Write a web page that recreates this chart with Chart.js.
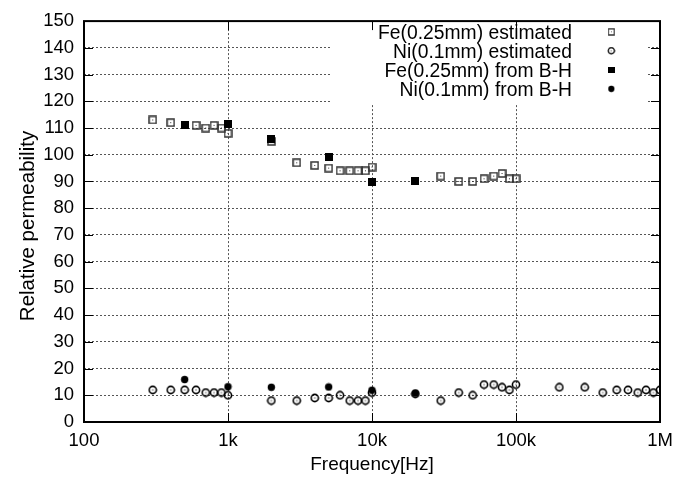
<!DOCTYPE html>
<html><head><meta charset="utf-8">
<script src="https://cdn.jsdelivr.net/npm/chart.js@4.4.0/dist/chart.umd.min.js"></script>
<style>html,body{margin:0;padding:0;background:#fff}#wrap{width:688px;height:479px}</style>
</head><body><div id="wrap"><canvas id="c" width="688" height="479"></canvas></div>
<script>
const FONT = '"Liberation Sans", Arial, Helvetica, sans-serif';

const xTickValues = [100, 1000, 10000, 100000, 1000000];
const xTickLabels = ['100', '1k', '10k', '100k', '1M'];
const yTickValues = [0, 10, 20, 30, 40, 50, 60, 70, 80, 90, 100, 110, 120, 130, 140, 150];
const xTitle = 'Frequency[Hz]';
const yTitle = 'Relative permeability';
const seriesNames = ['Fe(0.25mm) estimated', 'Ni(0.1mm) estimated', 'Fe(0.25mm) from B-H', 'Ni(0.1mm) from B-H'];

const feEstFreq = [300, 400, 600, 700, 800, 900, 1000, 2000, 3000, 4000, 5000, 6000, 7000, 8000, 9000, 10000, 30000, 40000, 50000, 60000, 70000, 80000, 90000, 100000];
const feEstVal  = [113, 112, 111, 110, 111, 110, 108, 105, 97, 96, 95, 94, 94, 94, 94, 95.4, 92, 90, 90, 91, 92, 93, 91, 91];

const niEstFreq = [300, 400, 500, 600, 700, 800, 900, 1000, 2000, 3000, 4000, 5000, 6000, 7000, 8000, 9000, 10000, 20000, 30000, 40000, 50000, 60000, 70000, 80000, 90000, 100000, 200000, 300000, 400000, 500000, 600000, 700000, 800000, 900000, 1000000];
const niEstVal  = [12, 12, 12, 12, 11, 11, 11, 10, 8, 8, 9, 9, 10, 8, 8, 8, 11, 10.5, 8, 11, 10, 14, 14, 13, 12, 14, 13, 13, 11, 12, 12, 11, 12, 11, 12];

const feBHFreq = [500, 1000, 2000, 5000, 10000, 20000];
const feBHVal  = [111, 111.6, 105.7, 99, 89.9, 90];

const niBHFreq = [500, 1000, 2000, 5000, 10000, 20000];
const niBHVal  = [15.9, 13.2, 13, 13.1, 11.9, 10.8];

function pts(fs, vs) { return fs.map((f, i) => ({ x: f, y: vs[i] })); }

function marker(kind) {
  const c = document.createElement('canvas');
  const g = c.getContext('2d');
  if (kind === 'sq') {
    c.width = 9; c.height = 9;
    g.strokeStyle = '#333'; g.lineWidth = 1.5;
    g.strokeRect(1, 1, 7, 7);
    g.fillStyle = '#333'; g.fillRect(4, 4, 1, 1);
  } else if (kind === 'ci') {
    c.width = 10; c.height = 10;
    g.strokeStyle = '#000'; g.lineWidth = 1.6;
    g.beginPath(); g.arc(5, 5, 3.6, 0, Math.PI * 2); g.stroke();
    g.fillStyle = '#000'; g.fillRect(4.5, 4.5, 1, 1);
  } else if (kind === 'fsq') {
    c.width = 8; c.height = 8;
    g.fillStyle = '#000'; g.fillRect(0, 0, 8, 8);
  } else {
    c.width = 9; c.height = 9;
    g.fillStyle = '#000';
    g.beginPath(); g.arc(4.5, 4.5, 3.7, 0, Math.PI * 2); g.fill();
  }
  return c;
}
const markers = [marker('sq'), marker('ci'), marker('fsq'), marker('fci')];

const gnuplotLook = {
  id: 'gnuplotLook',
  beforeDatasetsDraw(chart) {
    const { ctx, chartArea: a, scales } = chart;
    ctx.save();
    // opaque legend box covering grid
    ctx.fillStyle = '#fff';
    ctx.fillRect(330, a.top + 1, 318, 82);
    // inward ticks
    ctx.strokeStyle = '#000';
    ctx.lineWidth = 1;
    ctx.beginPath();
    yTickValues.forEach(v => {
      const y = Math.round(scales.y.getPixelForValue(v)) + 0.5;
      ctx.moveTo(a.left, y); ctx.lineTo(a.left + 9, y);
      ctx.moveTo(a.right, y); ctx.lineTo(a.right - 9, y);
    });
    xTickValues.forEach(v => {
      const x = Math.round(scales.x.getPixelForValue(v)) + 0.5;
      ctx.moveTo(x, a.bottom); ctx.lineTo(x, a.bottom - 9);
      ctx.moveTo(x, a.top); ctx.lineTo(x, a.top + 9);
    });
    ctx.stroke();
    // frame
    ctx.lineWidth = 2;
    ctx.strokeRect(a.left, a.top, a.right - a.left, a.bottom - a.top);
    // y axis title
    ctx.fillStyle = '#000';
    ctx.save();
    ctx.translate(28, 226);
    ctx.rotate(-Math.PI / 2);
    ctx.font = '20.5px ' + FONT;
    ctx.textAlign = 'center';
    ctx.textBaseline = 'middle';
    ctx.fillText(yTitle, 0, 0);
    ctx.restore();
    // legend
    ctx.font = '19.3px ' + FONT;
    ctx.textAlign = 'right';
    ctx.textBaseline = 'middle';
    const rows = [32.5, 51.5, 70.5, 89.5];
    seriesNames.forEach((n, i) => {
      ctx.fillText(n, 572, rows[i] + 1);
      const m = markers[i];
      ctx.drawImage(m, 612 - m.width / 2, rows[i] - m.height / 2, m.width * 0.85, m.height * 0.85);
    });
    ctx.restore();
  }
};

new Chart(document.getElementById('c'), {
  type: 'scatter',
  data: {
    datasets: [
      { label: seriesNames[2], data: pts(feBHFreq, feBHVal), pointStyle: markers[2], pointRadius: 4 },
      { label: seriesNames[3], data: pts(niBHFreq, niBHVal), pointStyle: markers[3], pointRadius: 4 },
      { label: seriesNames[0], data: pts(feEstFreq, feEstVal), pointStyle: markers[0], pointRadius: 4 },
      { label: seriesNames[1], data: pts(niEstFreq, niEstVal), pointStyle: markers[1], pointRadius: 4 }
    ]
  },
  options: {
    responsive: false,
    animation: false,
    devicePixelRatio: 1,
    layout: { padding: { top: 17, right: 28, left: 0, bottom: 0 } },
    plugins: { legend: { display: false }, tooltip: { enabled: false } },
    scales: {
      x: {
        type: 'logarithmic', min: 100, max: 1000000,
        afterBuildTicks: s => { s.ticks = xTickValues.map(v => ({ value: v })); },
        afterFit: s => { s.height = 57; },
        ticks: {
          autoSkip: false, maxRotation: 0, padding: 8, color: '#000',
          font: { family: FONT, size: 18.5 },
          callback: v => { const i = xTickValues.indexOf(v); return i >= 0 ? xTickLabels[i] : ''; }
        },
        grid: { color: '#555', lineWidth: 1, drawTicks: false, borderDash: [2, 2] },
        border: { display: false, dash: [2, 2] },
        title: { display: true, text: xTitle, color: '#000', font: { family: FONT, size: 19 }, padding: { top: 0, bottom: 2.6 } }
      },
      y: {
        min: 0, max: 150,
        afterBuildTicks: s => { s.ticks = yTickValues.map(v => ({ value: v })); },
        afterFit: s => { s.width = 84; },
        ticks: { padding: 10, color: '#000', font: { family: FONT, size: 18.5 } },
        grid: { color: '#555', lineWidth: 1, drawTicks: false, borderDash: [2, 2] },
        border: { display: false, dash: [2, 2] },
        title: { display: false }
      }
    }
  },
  plugins: [gnuplotLook]
});
</script>
</body></html>
